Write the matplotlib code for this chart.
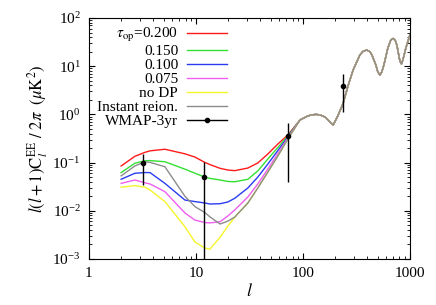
import numpy as np
import matplotlib
matplotlib.use("Agg")
import matplotlib.pyplot as plt
from matplotlib import ticker
from matplotlib.lines import Line2D

plt.rcParams["font.family"] = ["Liberation Serif", "DejaVu Serif"]
plt.rcParams["mathtext.fontset"] = "stix"
plt.rcParams["font.size"] = 11

ell_low = [2.0, 2.69, 3.34, 3.72, 5.13, 7.89, 9.79, 12.1, 13.5, 16.8,
           19.9, 23.1, 30.6, 37.9, 47.1, 58.4, 72.4]

cl_red = [0.085, 0.135, 0.163, 0.175, 0.189, 0.152, 0.130, 0.101, 0.091, 0.076,
          0.070, 0.068, 0.077, 0.098, 0.151, 0.243, 0.374]
cl_green = [0.062, 0.097, 0.109, 0.110, 0.104, 0.073, 0.060, 0.050, 0.047, 0.0435,
            0.0405, 0.040, 0.045, 0.067, 0.119, 0.206, 0.356]
cl_blue = [0.045, 0.060, 0.062, 0.062, 0.037, 0.0167, 0.0155, 0.0145, 0.0138, 0.0140,
           0.0152, 0.0182, 0.0297, 0.050, 0.0935, 0.178, 0.340]
cl_magenta = [0.037, 0.0435, 0.038, 0.036, 0.0249, 0.0090, 0.0064, 0.0057, 0.0056, 0.0059,
              0.0078, 0.0104, 0.0193, 0.036, 0.0736, 0.154, 0.324]
cl_yellow = [0.0308, 0.0332, 0.0308, 0.0270, 0.0155, 0.00468, 0.00225, 0.00169, 0.00159, 0.0028,
             0.0048, 0.0074, 0.0145, 0.0297, 0.0638, 0.137, 0.309]
cl_gray = [0.053, 0.085, 0.104, 0.101, 0.082, 0.020, 0.0122, 0.0092, 0.0075, 0.0053,
           0.0061, 0.0074, 0.0145, 0.0297, 0.0638, 0.137, 0.309]

# high-l part, the same for every model
ell_high = [94, 111, 122, 134, 147, 161, 192, 212, 238, 264, 295, 341, 364, 394, 423,
            442, 481, 502, 525, 547, 572, 623, 664, 699, 732, 756, 807, 836, 860, 918, 1000]
cl_high = [0.765, 0.926, 0.98, 1.00, 0.96, 0.883, 0.603, 0.926, 1.70, 3.88, 8.34, 17.1, 20.2,
           21.7, 20.0, 17.1, 10.6, 7.6, 6.56, 7.6, 10.6, 23.9, 35.0, 37.6, 34.0, 27.5, 12.8,
           11.1, 13.4, 23.9, 44.4]

labels = [r"$\tau_{\rm op}$=0.200", "0.150", "0.100", "0.075", "no DP", "Instant reion."]
colors = ["#ff1a1a", "#33e033", "#2a3cf0", "#f05ef0", "#f5f52a", "#8c8c8c"]
series = [cl_red, cl_green, cl_blue, cl_magenta, cl_yellow, cl_gray]

# WMAP-3yr points
wmap_l = [3.2, 11.9, 72, 238]
wmap_cl = [0.0995, 0.051, 0.357, 3.94]
wmap_lo = [0.035, 1e-4, 0.040, 1.106]
wmap_hi = [0.151, 0.104, 0.653, 6.79]

fig = plt.figure(figsize=(4.36, 3.05), dpi=100)
ax = fig.add_axes([0.204, 0.151, 0.736, 0.790])

handles = []
for cl, col, lab in zip(series, colors, labels):
    h, = ax.plot(ell_low + ell_high, cl + cl_high, color=col, lw=1.0, label=lab)
    handles.append(h)

wl = np.array(wmap_l)
wc = np.array(wmap_cl)
yerr = [wc - np.array(wmap_lo), np.array(wmap_hi) - wc]
ax.errorbar(wl, wc, yerr=yerr, fmt="o", color="k", ms=3, elinewidth=1.0, capsize=0, zorder=5)
handles.append(Line2D([], [], color="k", lw=1.0, marker="o", ms=3, label="WMAP-3yr"))

ax.set_xscale("log")
ax.set_yscale("log")
ax.set_xlim(1, 1000)
ax.set_ylim(1e-3, 1e2)
ax.xaxis.set_major_formatter(ticker.FormatStrFormatter("%d"))
ax.tick_params(which="both", direction="in", top=True, right=True, labelsize=11)
ax.tick_params(which="major", length=4.5, pad=6)
ax.tick_params(which="minor", length=2.5)

ax.set_xlabel(r"$l$", fontsize=13, labelpad=2)
ax.set_ylabel(r"$l(l+1)\mathrm{C}_l^{\mathrm{EE}}\ /\ 2\pi\ \ (\mu\mathrm{K}^2)$", fontsize=12, labelpad=2)

leg = ax.legend(handles=handles, loc="upper left", bbox_to_anchor=(0.0, 1.0), frameon=False,
                markerfirst=False, handlelength=2.6, handletextpad=0.6, labelspacing=0.02,
                borderaxespad=0.15, fontsize=11)
for col in leg._legend_handle_box.get_children():
    col.align = "right"

fig.savefig("out.png", dpi=100)
